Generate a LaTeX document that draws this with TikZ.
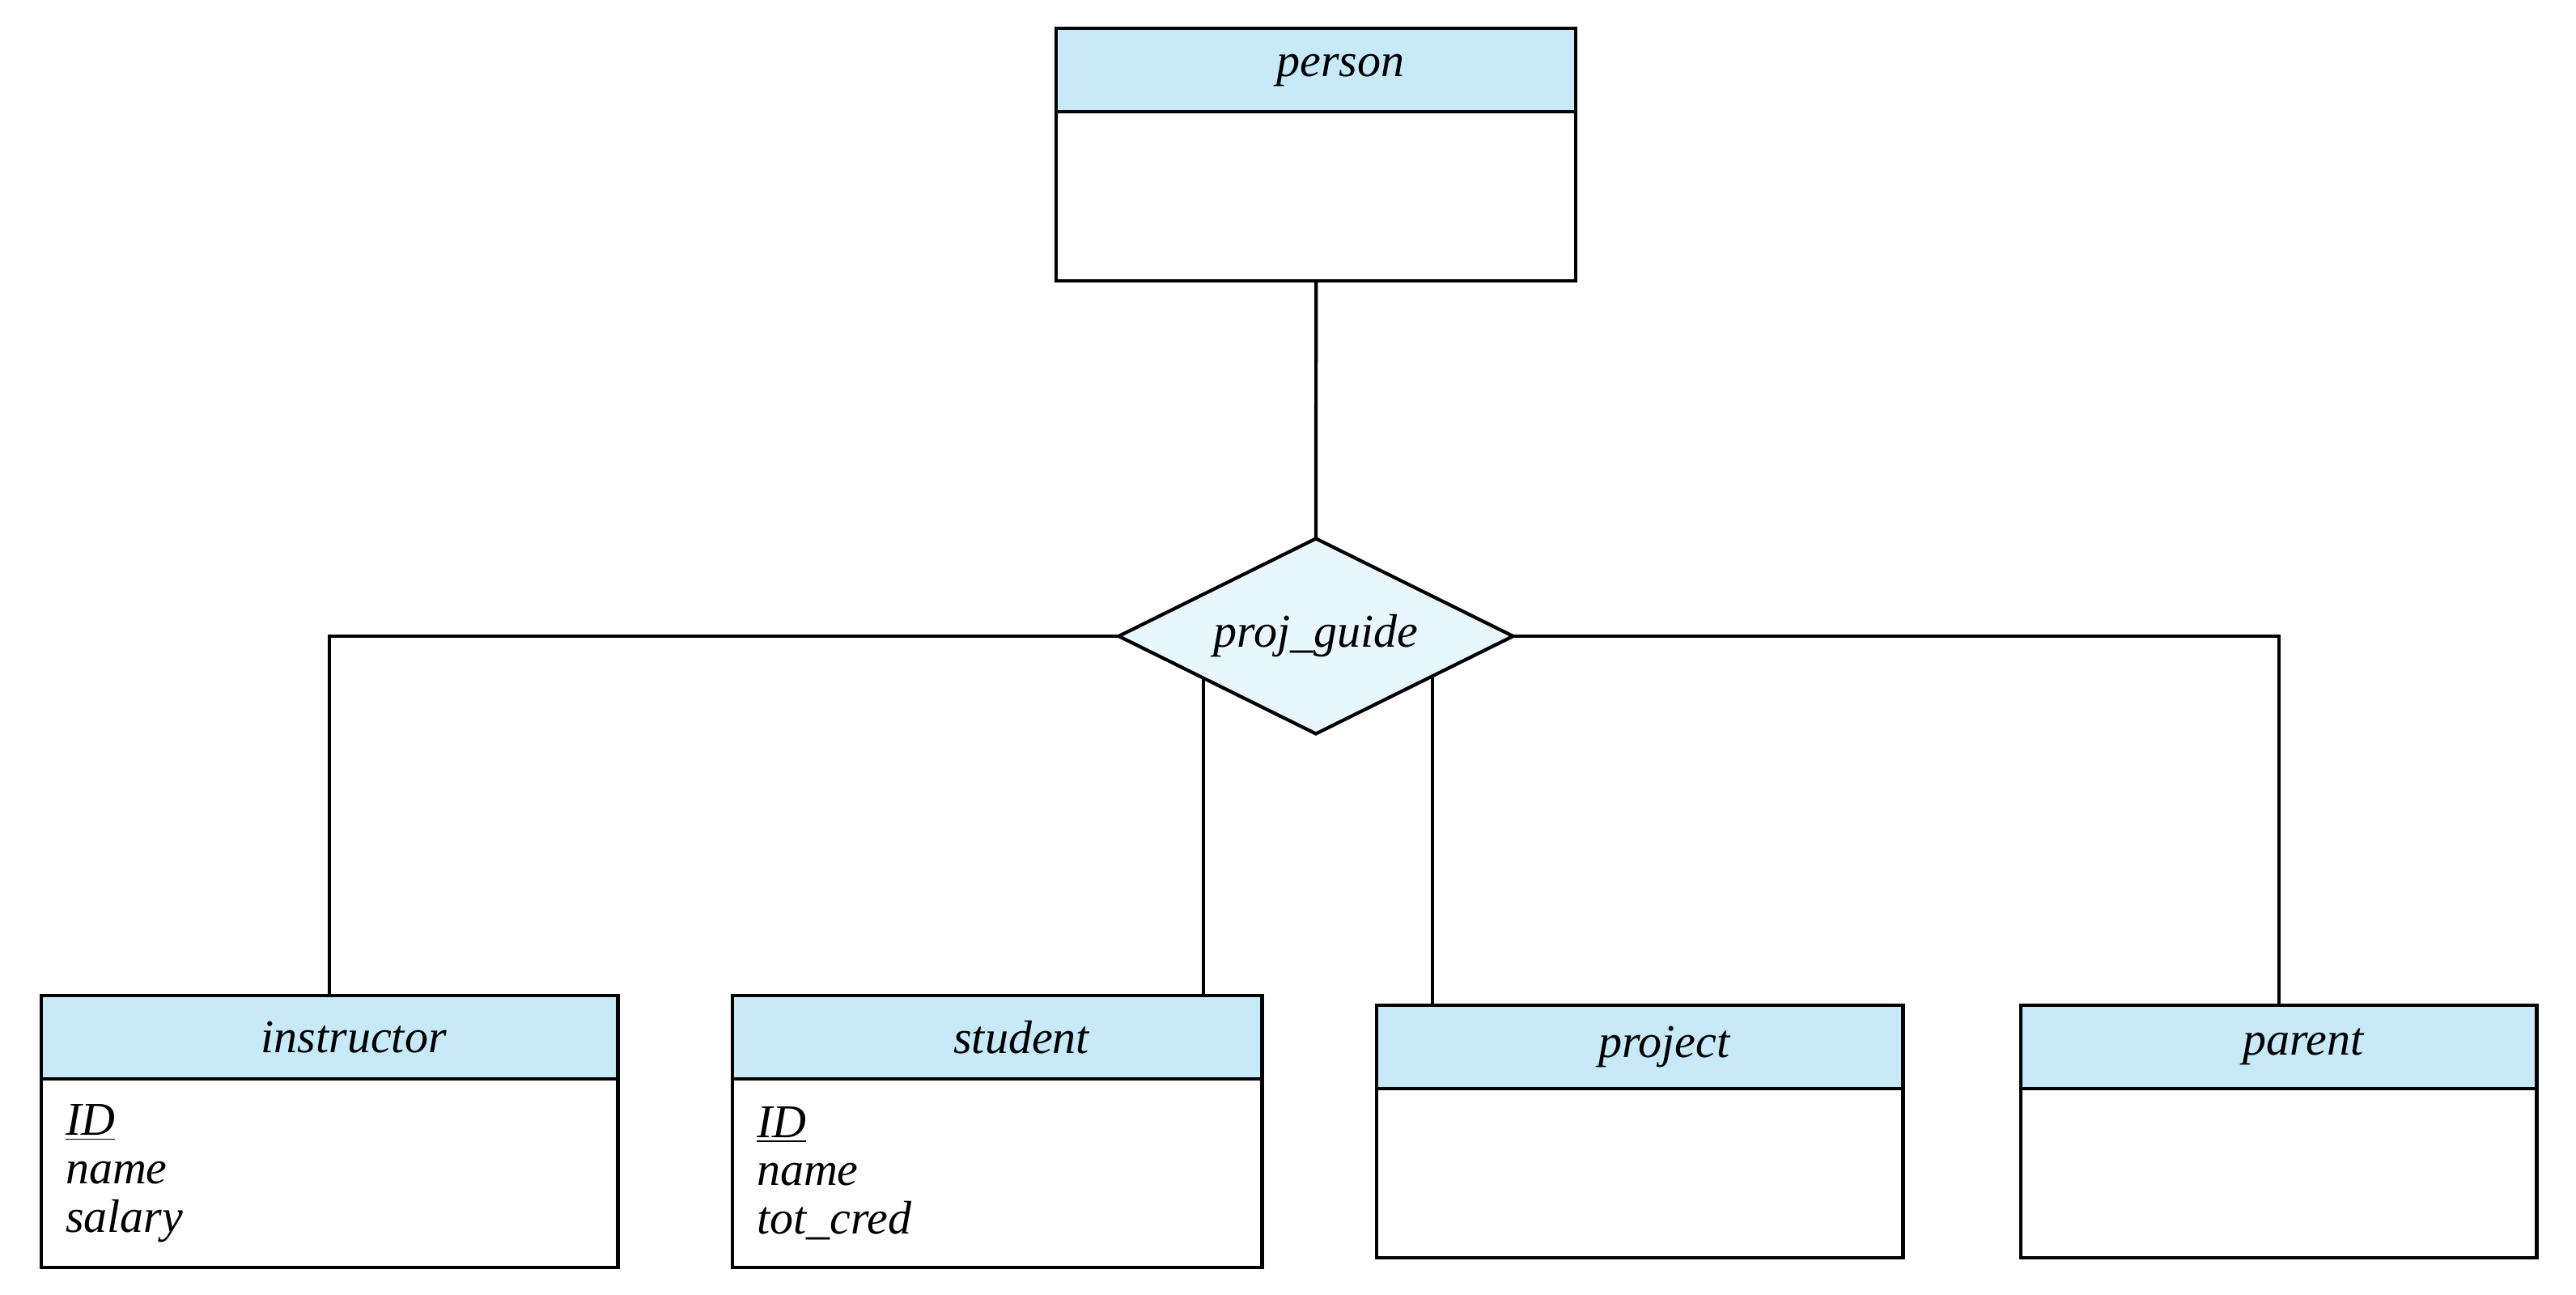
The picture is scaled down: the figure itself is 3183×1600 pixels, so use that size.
\documentclass[tikz,border=0pt]{standalone}
\usepackage{fontspec}
\setmainfont{Liberation Serif}
\usepackage{tikz}
\usetikzlibrary{calc,shapes.geometric}
\definecolor{headblue}{RGB}{199,233,248}
\definecolor{relblue}{RGB}{232,247,254}
\tikzset{
    entityhead/.style={draw=black,line width=1.2pt,fill=headblue,anchor=north west,minimum height=1.03cm,inner sep=0pt,outer sep=0pt,execute at begin node={\hspace*{0.6cm}}},
    entitybody/.style={draw=black,line width=1.2pt,fill=white,anchor=north west,align=left,inner xsep=0.3cm,inner ysep=0pt,outer sep=0pt},
    relship/.style={diamond,draw=black,line width=1.2pt,fill=relblue,aspect=2,minimum width=4.87cm,minimum height=2.41cm,inner sep=0pt,outer sep=0pt},
    link/.style={black,line width=1.2pt}
}
\begin{document}
\begin{tikzpicture}[x=0.01cm,y=-0.01cm,font=\fontsize{16.5}{17}\selectfont\itshape]
\useasboundingbox (0,0) rectangle (3183,1600);

\node[entityhead,minimum width=6.42cm] (person) at (1305,35) {person};
\node[entitybody,text width=5.82cm,minimum height=2.09cm] (person-attr) at (person.south west) {};

\node[relship] (pg) at (1626,786) {proj\_guide};

\node[entityhead,minimum width=7.12cm] (instructor) at (51,1230) {instructor};
\node[entitybody,text width=6.52cm,minimum height=2.33cm] (instructor-attr) at (instructor.south west) {\underline{ID}\\name\\salary};

\node[entityhead,minimum width=6.54cm] (student) at (905,1230) {student};
\node[entitybody,text width=5.94cm,minimum height=2.33cm] (student-attr) at (student.south west) {\underline{ID}\\name\\tot\_cred};

\node[entityhead,minimum width=6.50cm] (project) at (1701,1242) {project};
\node[entitybody,text width=5.90cm,minimum height=2.09cm] (project-attr) at (project.south west) {};

\node[entityhead,minimum width=6.37cm] (parent) at (2497,1242) {parent};
\node[entitybody,text width=5.77cm,minimum height=2.09cm] (parent-attr) at (parent.south west) {};

\coordinate (studentjoin) at ($(pg.west)!0.43!(pg.south)$);
\coordinate (projectjoin) at ($(pg.east)!0.41!(pg.south)$);

\draw[link] (person-attr.south) -- (pg.north);
\draw[link] (pg.west) -| (instructor.north);
\draw[link] (studentjoin) -- (studentjoin |- student.north);
\draw[link] (projectjoin) -- (projectjoin |- project.north);
\draw[link] (pg.east) -| (parent.north);

\end{tikzpicture}
\end{document}
